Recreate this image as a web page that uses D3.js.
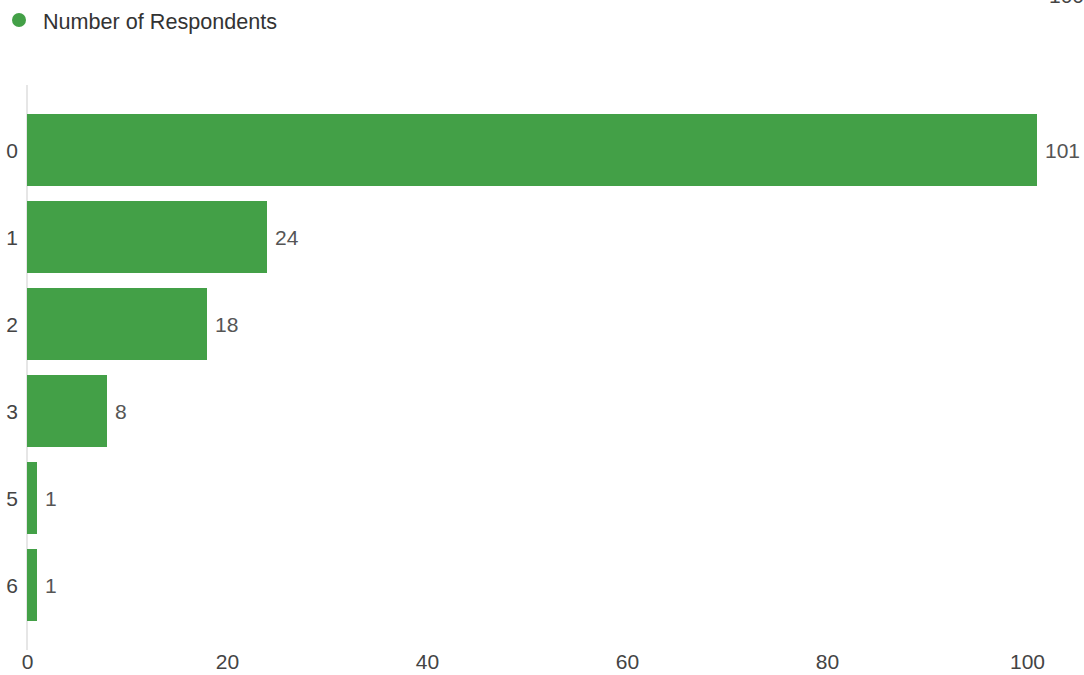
<!DOCTYPE html>
<html>
<head>
<meta charset="utf-8">
<script src="https://cdn.jsdelivr.net/npm/d3@7"></script>
<style>
  html, body { margin: 0; padding: 0; background: #ffffff; }
  svg { display: block; font-family: "Liberation Sans", Arial, sans-serif; }
</style>
</head>
<body>
<svg id="chart" width="1084" height="675"></svg>
<script>
// Responses: number of items reported, and how many respondents gave each answer
const categories = ["0", "1", "2", "3", "5", "6"];
const respondents = [101, 24, 18, 8, 1, 1];
const xTicks = [0, 20, 40, 60, 80, 100];
const seriesName = "Number of Respondents";

const barColor = "#43a047";
const svg = d3.select("#chart");

const x = d3.scaleLinear().domain([0, 100]).range([27, 1027]);
const y = d3.scaleBand().domain(categories).range([106.5, 628.5]).paddingInner(15 / 87).paddingOuter(7.5 / 87);

// baseline at zero
svg.append("line")
  .attr("x1", x(0)).attr("x2", x(0))
  .attr("y1", 85).attr("y2", 650)
  .attr("stroke", "#e6e6e6").attr("stroke-width", 2);

// bars
svg.append("g").selectAll("rect")
  .data(categories)
  .join("rect")
  .attr("x", x(0))
  .attr("y", d => y(d))
  .attr("width", (d, i) => x(respondents[i]) - x(0))
  .attr("height", y.bandwidth())
  .attr("fill", barColor);

// value labels
svg.append("g").selectAll("text")
  .data(categories)
  .join("text")
  .attr("x", (d, i) => x(respondents[i]) + 8)
  .attr("y", d => y(d) + y.bandwidth() / 2)
  .attr("dy", "0.36em")
  .attr("font-size", 21)
  .attr("fill", "#555")
  .text((d, i) => respondents[i]);

// category axis
const yAxis = d3.axisLeft(y).tickSize(0).tickPadding(0);
const gy = svg.append("g").attr("transform", "translate(18,0)").call(yAxis);
gy.select(".domain").remove();
gy.selectAll("text").attr("font-size", 21).attr("fill", "#444")
  .attr("font-family", "'Liberation Sans', Arial, sans-serif")
  .attr("dy", "0.36em");

// value axis
const xAxis = d3.axisBottom(x).tickValues(xTicks).tickSize(0).tickPadding(0);
const gx = svg.append("g").attr("transform", "translate(0,654)").call(xAxis);
gx.select(".domain").remove();
gx.selectAll("text").attr("font-size", 21).attr("fill", "#444")
  .attr("font-family", "'Liberation Sans', Arial, sans-serif")
  .attr("dy", "0.71em");

// legend
const legend = svg.append("g");
legend.append("circle").attr("cx", 19).attr("cy", 20).attr("r", 7).attr("fill", barColor);
legend.append("text").attr("x", 43).attr("y", 21).attr("dy", "0.36em")
  .attr("font-size", 21.6).attr("fill", "#333").text(seriesName);

// clipped label at the top edge
svg.append("text").attr("x", 1049).attr("y", 3)
  .attr("font-size", 21).attr("fill", "#444").text("100");
</script>
</body>
</html>
